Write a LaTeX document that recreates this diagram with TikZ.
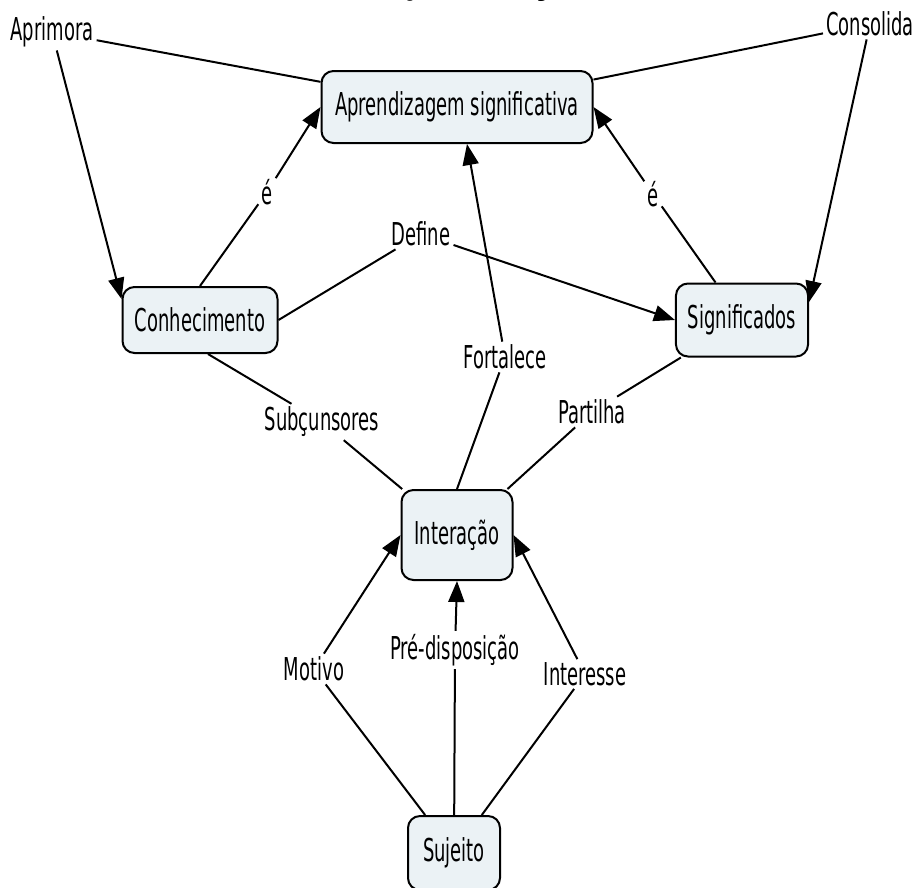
\documentclass[tikz,border=0pt]{standalone}
\usepackage{fontspec}
\usetikzlibrary{arrows.meta}
\newfontfamily\labfont[FakeStretch=0.57]{DejaVu Sans}
\newfontfamily\titlefont{Liberation Serif}
\definecolor{cfill}{RGB}{235,242,245}
\begin{document}
\begin{tikzpicture}[x=1pt,y=-1pt,
  txt/.style={font=\labfont\fontsize{31.5}{36}\selectfont},
  concept/.style={txt, draw=black, line width=2pt, rounded corners=12pt, fill=cfill, inner xsep=12pt, inner ysep=0pt},
  lab/.style={txt, inner sep=3pt},
  conn/.style={line width=2pt},
  arr/.style={conn, -{Triangle[length=21pt,width=16pt]}}]
\useasboundingbox (0,0) rectangle (917,887);
% title (cut off at the top)
\node[anchor=base, font=\titlefont\bfseries\fontsize{33}{38}\selectfont, inner sep=0pt] (title) at (458,-6) {Interação do Sujeito};
% concepts
\node[concept, minimum width=271pt, minimum height=72pt] (ap) at (457,107) {Aprendizagem significativa};
\node[concept, minimum width=155pt, minimum height=66pt] (conh) at (200,320) {Conhecimento};
\node[concept, minimum width=132pt, minimum height=73pt] (sig) at (742,320) {Significados};
\node[concept, minimum width=111pt, minimum height=90pt] (inter) at (457,535) {Interação};
\node[concept, minimum width=92pt, minimum height=74pt] (suj) at (454,853) {Sujeito};
% link labels
\node[lab] (aprimora) at (52,32) {Aprimora};
\node[lab] (consolida) at (870,24) {Consolida};
\node[lab] (e1) at (267,192) {é};
\node[lab] (e2) at (653,194) {é};
\node[lab] (define) at (421,234) {Define};
\node[lab] (fort) at (505,357) {Fortalece};
\node[lab] (subc) at (322,422) {Subçunsores};
\node[lab] (part) at (592,412) {Partilha};
\node[lab] (motivo) at (314,669) {Motivo};
\node[lab] (pre) at (455,650) {Pré-disposição};
\node[lab] (inte) at (585,674) {Interesse};
% connectors
\draw[conn] (ap) -- (aprimora);
\draw[arr] (aprimora) -- (conh.165);
\draw[conn] (ap) -- (consolida);
\draw[arr] (consolida) -- (sig.15);
\draw[conn] (conh.north) -- (e1);
\draw[arr] (e1) -- (ap.west);
\draw[conn] (sig) -- (e2);
\draw[arr] (e2) -- (ap.east);
\draw[conn] (conh.east) -- (define);
\draw[arr] (define) -- (sig.west);
\draw[conn] (inter.north) -- (fort);
\draw[arr] (fort) -- ([xshift=10pt]ap.south);
\draw[conn] ([xshift=8pt]conh.south) -- (subc);
\draw[conn] (subc) -- (inter);
\draw[conn] (inter) -- (part);
\draw[conn] (part) -- (sig);
\draw[conn] (suj) -- (motivo);
\draw[arr] (motivo) -- (inter.west);
\draw[conn] (suj) -- (pre);
\draw[arr] (pre) -- (inter.south);
\draw[conn] (suj) -- (inte);
\draw[arr] (inte) -- (inter.east);
\end{tikzpicture}
\end{document}
